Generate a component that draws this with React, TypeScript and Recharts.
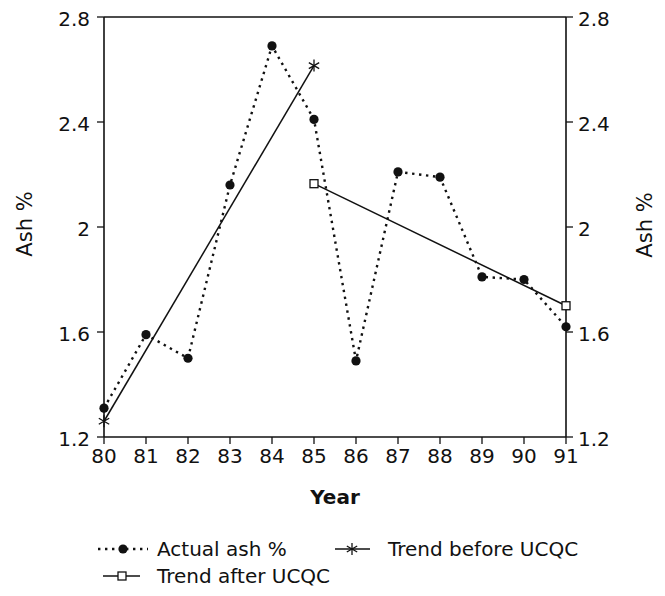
import React from "react";
import {
  LineChart,
  Line,
  XAxis,
  YAxis,
  Legend,
  ReferenceLine,
} from "recharts";

const years = [80, 81, 82, 83, 84, 85, 86, 87, 88, 89, 90, 91];
const actualAsh = [1.31, 1.59, 1.5, 2.16, 2.69, 2.41, 1.49, 2.21, 2.19, 1.81, 1.8, 1.62];
const trendBeforeYears = [80, 85];
const trendBeforeValues = [1.26, 2.615];
const trendAfterYears = [85, 91];
const trendAfterValues = [2.165, 1.7];
const yTicks = [1.2, 1.6, 2, 2.4, 2.8];
const seriesNames = ["Actual ash %", "Trend before UCQC", "Trend after UCQC"];

const actualData = years.map((year, i) => ({ year, value: actualAsh[i] }));
const beforeData = trendBeforeYears.map((year, i) => ({ year, value: trendBeforeValues[i] }));
const afterData = trendAfterYears.map((year, i) => ({ year, value: trendAfterValues[i] }));

const FONT = "'DejaVu Sans', 'Liberation Sans', Arial, sans-serif";
const INK = "#111";

function asteriskShape(cx: number, cy: number, key?: any) {
  const r = 6;
  const a = r * Math.cos(Math.PI / 6);
  const b = r * Math.sin(Math.PI / 6);
  return (
    <g key={key}>
      <line x1={cx} y1={cy - r} x2={cx} y2={cy + r} stroke={INK} strokeWidth={1.3} />
      <line x1={cx - a} y1={cy - b} x2={cx + a} y2={cy + b} stroke={INK} strokeWidth={1.3} />
      <line x1={cx - a} y1={cy + b} x2={cx + a} y2={cy - b} stroke={INK} strokeWidth={1.3} />
    </g>
  );
}

function squareShape(cx: number, cy: number, key?: any) {
  const s = 8;
  return (
    <rect
      key={key}
      x={cx - s / 2}
      y={cy - s / 2}
      width={s}
      height={s}
      fill="#fff"
      stroke={INK}
      strokeWidth={1.3}
    />
  );
}

const AsteriskDot = (props: any) => {
  const { cx, cy, index } = props;
  if (cx == null || cy == null) return <g key={`a-${index}`} />;
  return asteriskShape(cx, cy, `a-${index}`);
};

const SquareDot = (props: any) => {
  const { cx, cy, index } = props;
  if (cx == null || cy == null) return <g key={`s-${index}`} />;
  return squareShape(cx, cy, `s-${index}`);
};

const CircleDot = (props: any) => {
  const { cx, cy, index } = props;
  if (cx == null || cy == null) return <g key={`c-${index}`} />;
  return <circle key={`c-${index}`} cx={cx} cy={cy} r={4.6} fill={INK} />;
};

const LegendContent = () => {
  const rowA = 19;
  const rowB = 46;
  const textStyle: any = { fontFamily: FONT, fontSize: 20, fill: INK };
  return (
    <svg width={540} height={64} style={{ display: "block" }}>
      <line x1={10} y1={rowA} x2={60} y2={rowA} stroke={INK} strokeWidth={2.4} strokeDasharray="2.4 4.6" />
      <circle cx={35} cy={rowA} r={4.6} fill={INK} />
      <text x={69} y={rowA} dominantBaseline="central" style={textStyle}>
        {seriesNames[0]}
      </text>

      <line x1={247} y1={rowA} x2={282} y2={rowA} stroke={INK} strokeWidth={1.5} />
      {asteriskShape(264, rowA)}
      <text x={300} y={rowA} dominantBaseline="central" style={textStyle}>
        {seriesNames[1]}
      </text>

      <line x1={15} y1={rowB} x2={52} y2={rowB} stroke={INK} strokeWidth={1.5} />
      {squareShape(34, rowB)}
      <text x={69} y={rowB} dominantBaseline="central" style={textStyle}>
        {seriesNames[2]}
      </text>
    </svg>
  );
};

const tickStyle = { fontFamily: FONT, fontSize: 20, fill: INK };

export default function App() {
  return (
    <div style={{ position: "relative", top: -8, left: -8, width: 665, height: 596 }}>
      <LineChart
        width={665}
        height={596}
        margin={{ top: 17, right: 9, bottom: 99, left: 0 }}
      >
        <XAxis
          dataKey="year"
          type="number"
          domain={[80, 91]}
          ticks={years}
          interval={0}
          allowDuplicatedCategory={false}
          axisLine={{ stroke: INK, strokeWidth: 1.6 }}
          tickLine={{ stroke: INK, strokeWidth: 1.3 }}
          tickSize={7}
          tickMargin={5}
          tick={tickStyle}
          height={60}
          label={(p: any) => {
            const vb = p.viewBox || {};
            return (
              <text
                x={vb.x + vb.width / 2}
                y={vb.y + 67}
                textAnchor="middle"
                style={{ fontFamily: FONT, fontSize: 20, fontWeight: "bold", fill: INK }}
              >
                Year
              </text>
            );
          }}
        />
        <YAxis
          yAxisId="left"
          type="number"
          domain={[1.2, 2.8]}
          ticks={yTicks}
          interval={0}
          width={104}
          axisLine={{ stroke: INK, strokeWidth: 1.6 }}
          tickLine={{ stroke: INK, strokeWidth: 1.3 }}
          tickSize={7}
          tickMargin={7}
          tick={{ ...tickStyle, dy: 2 }}
          label={(p: any) => {
            const vb = p.viewBox || {};
            const cx = 25;
            const cy = vb.y + vb.height / 2 - 3;
            return (
              <text
                x={cx}
                y={cy}
                textAnchor="middle"
                dominantBaseline="central"
                transform={`rotate(-90 ${cx} ${cy})`}
                style={{ fontFamily: FONT, fontSize: 21, fill: INK }}
              >
                Ash %
              </text>
            );
          }}
        />
        <YAxis
          yAxisId="right"
          orientation="right"
          type="number"
          domain={[1.2, 2.8]}
          ticks={yTicks}
          interval={0}
          width={90}
          axisLine={{ stroke: INK, strokeWidth: 1.6 }}
          tickLine={{ stroke: INK, strokeWidth: 1.3 }}
          tickSize={7}
          tickMargin={5}
          tick={{ ...tickStyle, dy: 2 }}
          label={(p: any) => {
            const vb = p.viewBox || {};
            const cx = vb.x + 79;
            const cy = vb.y + vb.height / 2 - 2;
            return (
              <text
                x={cx}
                y={cy}
                textAnchor="middle"
                dominantBaseline="central"
                transform={`rotate(-90 ${cx} ${cy})`}
                style={{ fontFamily: FONT, fontSize: 21, fill: INK }}
              >
                Ash %
              </text>
            );
          }}
        />
        <ReferenceLine yAxisId="left" y={2.8} stroke={INK} strokeWidth={1.6} />
        <Line
          yAxisId="left"
          data={beforeData}
          dataKey="value"
          name={seriesNames[1]}
          type="linear"
          stroke={INK}
          strokeWidth={1.5}
          dot={AsteriskDot}
          activeDot={false}
          isAnimationActive={false}
        />
        <Line
          yAxisId="right"
          data={afterData}
          dataKey="value"
          name={seriesNames[2]}
          type="linear"
          stroke={INK}
          strokeWidth={1.5}
          dot={SquareDot}
          activeDot={false}
          isAnimationActive={false}
        />
        <Line
          yAxisId="left"
          data={actualData}
          dataKey="value"
          name={seriesNames[0]}
          type="linear"
          stroke={INK}
          strokeWidth={2.4}
          strokeDasharray="2.4 4.6"
          dot={CircleDot}
          activeDot={false}
          isAnimationActive={false}
        />
        <Legend
          layout="horizontal"
          verticalAlign="middle"
          align="center"
          content={LegendContent}
          wrapperStyle={{ position: "absolute", top: 530, left: 88, width: 540, height: 64 }}
        />
      </LineChart>
    </div>
  );
}
